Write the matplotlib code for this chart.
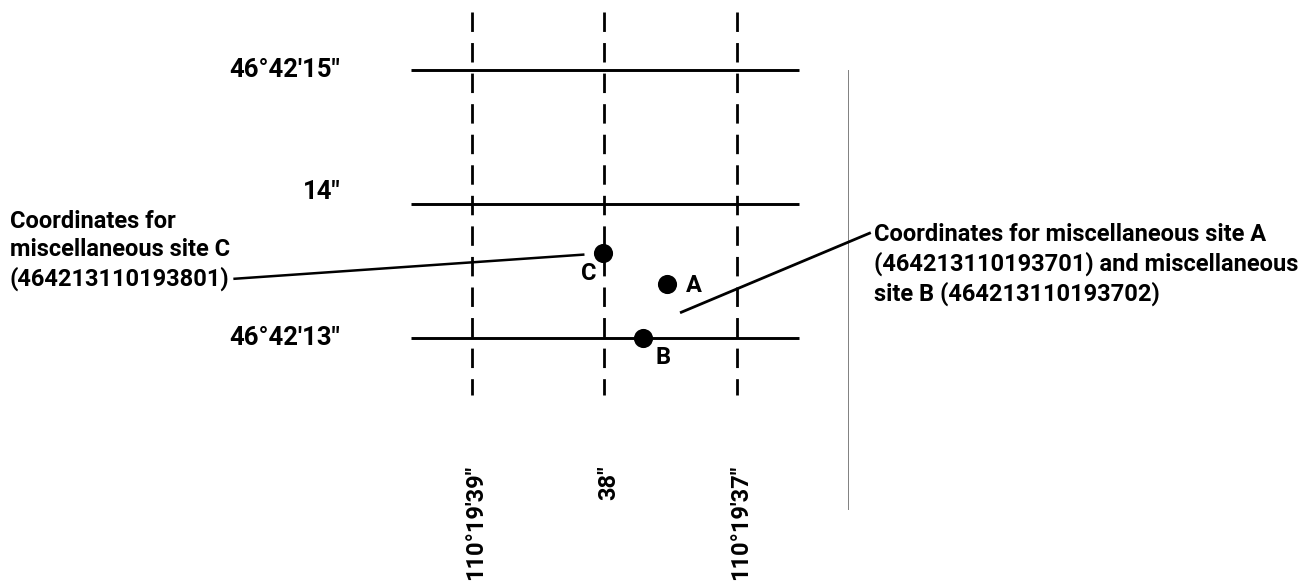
import matplotlib
matplotlib.use("Agg")
import matplotlib.pyplot as plt

plt.rcParams['font.family'] = ['Roboto', 'DejaVu Sans']
plt.rcParams['lines.scale_dashes'] = False

# ---- data (seconds of latitude / longitude) ----
lat_lines = [15, 14, 13]
lat_labels = ["46°42'15\"", "14\"", "46°42'13\""]
lon_lines = [39, 38, 37]
lon_labels = ["110°19'39\"", "38\"", "110°19'37\""]

site_names = ["A", "B", "C"]
site_lon = [37.53, 37.71, 38.01]
site_lat = [13.40, 13.00, 13.63]

note_c = "Coordinates for\nmiscellaneous site C\n(464213110193801)"
note_ab = ("Coordinates for miscellaneous site A\n"
           "(464213110193701) and miscellaneous\n"
           "site B (464213110193702)")

# ---- figure ----
fig = plt.figure(figsize=(12.99, 5.87), dpi=100)
ax = fig.add_axes([0, 0, 1, 1])
ax.set_xlim(42.56, 32.76)   # west longitude increases to the left
ax.set_ylim(11.14, 15.52)
ax.axis('off')

FS = 17
fw = 'bold'

lon_w, lon_e = max(lon_lines) + 0.46, min(lon_lines) - 0.47
lat_n, lat_s = max(lat_lines) + 0.43, min(lat_lines) - 0.43

# horizontal latitude lines (solid)
for la, lab in zip(lat_lines, lat_labels):
    ax.plot([lon_w, lon_e], [la, la], color='black', lw=2.1, solid_capstyle='butt')
    dy = 0.09 if lab == "14\"" else 0.0
    ax.text(lon_w + 0.53, la + dy, lab, ha='right', va='center',
            fontsize=18.5, fontweight=fw)

# vertical longitude lines (dashed)
for lo, lab in zip(lon_lines, lon_labels):
    ax.plot([lo, lo], [lat_n, lat_s], color='black', lw=2.0,
            dashes=(14, 8))
    ax.text(lo - 0.03, lat_s - 0.52, lab, ha='center', va='top', rotation=90,
            fontsize=FS, fontweight=fw)

# thin vertical line on right
ax.plot([36.16, 36.16], [15.0, 11.72], color='#808080', lw=0.7)

# site points
ax.scatter(site_lon, site_lat, s=190, color='black', zorder=5, linewidths=0)
offsets = {"A": (19.4, -0.7), "B": (14.4, -14.4), "C": (-10.1, -14.4)}
for n, lo, la in zip(site_names, site_lon, site_lat):
    ax.annotate(n, (lo, la), xytext=offsets[n], textcoords='offset points',
                ha='center', va='center', fontsize=FS, fontweight=fw)

# annotation for site C
ax.text(42.487, 13.65, note_c, ha='left', va='center', fontsize=FS,
        fontweight=fw, linespacing=1.3)
ax.plot([40.79, 38.16], [13.44, 13.62], color='black', lw=1.8)

# annotation for sites A and B
ax.text(35.97, 13.545, note_ab, ha='left', va='center', fontsize=FS,
        fontweight=fw, linespacing=1.3)
ax.plot([37.42, 36.00], [13.19, 13.78], color='black', lw=2.0)

fig.savefig("out.png", dpi=100)
